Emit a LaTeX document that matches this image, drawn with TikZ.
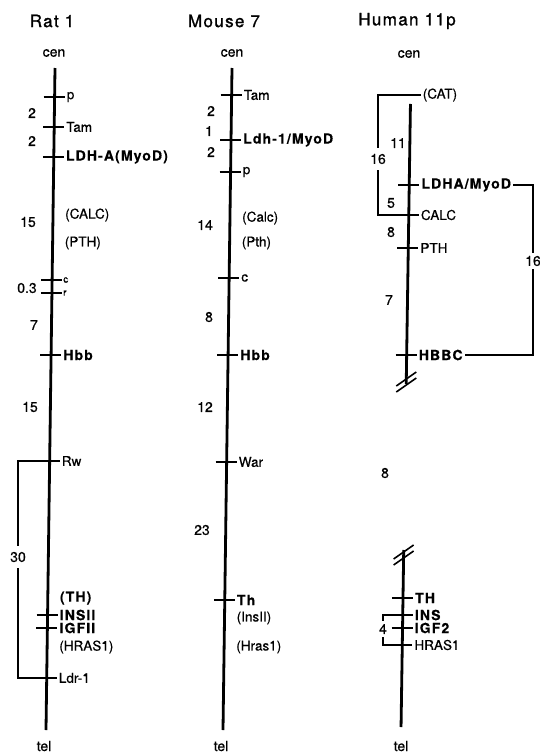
\documentclass[tikz,border=0pt]{standalone}
\usepackage{fontspec}
\setmainfont{TeX Gyre Heros}[FakeBold=0.6]
\newfontfamily\genebf{TeX Gyre Heros}[LetterSpace=8,FakeBold=0.4]
\newfontfamily\titlefont{TeX Gyre Heros}[LetterSpace=8,FakeBold=1.2]
\usetikzlibrary{calc}
\newcommand{\onchrom}[3]{\pgfmathsetmacro\locfrac{(#3-68)/662}\coordinate (#2) at ($(#1top)!\locfrac!(#1bot)$);}
\newcommand{\locus}[5][]{\onchrom{#2}{#3}{#4}
  \draw[tk] ([xshift=-11pt]#3) -- ([xshift=10pt]#3);
  \node[lbl,#1] (#3l) at ([xshift=10pt]#3) {#5};}
\newcommand{\unplaced}[5][]{\onchrom{#2}{#3}{#4}
  \node[lbl,#1] (#3l) at ([xshift=10pt]#3) {#5};}

\begin{document}
\begin{tikzpicture}[x=1pt,y=-1pt,
    chrom/.style={line width=2.8pt},
    tk/.style={line width=1.6pt},
    brk/.style={line width=1.4pt},
    lbl/.style={anchor=west,inner sep=2pt,font=\fontsize{13.5}{13.5}\selectfont},
    gb/.style={font=\genebf\bfseries\fontsize{14}{14}\selectfont},
    sm/.style={font=\fontsize{10}{10}\selectfont,inner sep=1pt},
    num/.style={inner sep=1pt,font=\fontsize{14}{14}\selectfont},
    gapnum/.style={num,inner ysep=6pt},
    ttl/.style={font=\titlefont\fontsize{17}{17}\selectfont}]
  \useasboundingbox (0,0) rectangle (540,755);
  \node[ttl] (rat) at (52,21) {Rat 1};
  \node[ttl] (mouse) at (224,21) {Mouse 7};
  \node[ttl] (human) at (407,21) {Human 11p};
  \node[num] (rcen) at (54,53) {cen}; \node[num,inner sep=0pt] (rtel) at (44,746) {tel};
  \node[num] (mcen) at (232,53) {cen}; \node[num,inner sep=0pt] (mtel) at (221,746) {tel};
  \node[num] (hcen) at (409,54) {cen}; \node[num,inner sep=0pt] (htel) at (401,746) {tel};
  \coordinate (rtop) at (55,68); \coordinate (rbot) at (46,730);
  \coordinate (mtop) at (232,68); \coordinate (mbot) at (223,730);
  \coordinate (htop) at (411,68); \coordinate (hbot) at (401,730);
  \draw[chrom] (rtop) -- (rbot);
  \draw[chrom] (mtop) -- (mbot);
  \onchrom{h}{hs1}{104} \onchrom{h}{he1}{384} \onchrom{h}{hs2}{550} \onchrom{h}{he2}{727}
  \draw[chrom] (hs1) -- (he1);
  \draw[chrom] (hs2) -- (he2);
  \onchrom{h}{hb1}{380} \onchrom{h}{hb2}{557}
  \draw[tk] ([shift={(-10,6)}]hb1) -- ([shift={(10,-8)}]hb1);
  \draw[tk] ([shift={(-10,12)}]hb1) -- ([shift={(10,-2)}]hb1);
  \draw[tk] ([shift={(-10,2)}]hb2) -- ([shift={(10,-12)}]hb2);
  \draw[tk] ([shift={(-10,8)}]hb2) -- ([shift={(10,-6)}]hb2);
  % rat
  \locus{r}{rP}{97}{p}
  \locus{r}{rTam}{127}{Tam}
  \locus[gb]{r}{rLdh}{157}{LDH-A(MyoD)}
  \unplaced{r}{rCalc}{215}{(CALC)}
  \unplaced{r}{rPth}{243}{(PTH)}
  \locus[sm]{r}{rC}{280}{c}
  \locus[sm]{r}{rR}{293}{r}
  \locus[gb]{r}{rHbb}{355}{Hbb}
  \locus{r}{rRw}{461}{Rw}
  \unplaced[gb]{r}{rTh}{598}{(TH)}
  \locus[gb]{r}{rIns}{615}{INSII}
  \locus[gb]{r}{rIgf}{628}{IGFII}
  \unplaced{r}{rHras}{647}{(HRAS1)}
  \locus{r}{rLdr}{678}{Ldr-1}
  \node[num] (rd1) at (32,113) {2};
  \node[num] (rd2) at (32,141) {2};
  \node[num] (rd3) at (28,222) {15};
  \node[num] (rd4) at (27,288) {0.3};
  \node[num] (rd5) at (34,325) {7};
  \node[num] (rd6) at (30,407) {15};
  \node[gapnum] (rd7) at (18,557) {30};
  \draw[brk] (rRw) -| (rd7.north);
  \draw[brk] (rd7.south) |- (rLdr);
  % mouse
  \locus{m}{mTam}{95}{Tam}
  \locus[gb]{m}{mLdh}{140}{Ldh-1/MyoD}
  \locus{m}{mP}{172}{p}
  \unplaced{m}{mCalc}{218}{(Calc)}
  \unplaced{m}{mPth}{243}{(Pth)}
  \locus{m}{mC}{278}{c}
  \locus[gb]{m}{mHbb}{355}{Hbb}
  \locus{m}{mWar}{462}{War}
  \locus[gb]{m}{mTh}{600}{Th}
  \unplaced{m}{mIns}{618}{(InsII)}
  \unplaced{m}{mHras}{647}{(Hras1)}
  \node[num] (md1) at (211,111) {2};
  \node[num] (md2) at (209,131) {1};
  \node[num] (md3) at (211,152) {2};
  \node[num] (md4) at (205,225) {14};
  \node[num] (md5) at (209,317) {8};
  \node[num] (md6) at (205,407) {12};
  \node[num] (md7) at (202,530) {23};
  % human
  \unplaced{h}{hCat}{95}{(CAT)}
  \locus[gb]{h}{hLdh}{185}{LDHA/MyoD}
  \locus{h}{hCalc}{215}{CALC}
  \locus{h}{hPth}{248}{PTH}
  \locus[gb]{h}{hHbbc}{355}{HBBC}
  \locus[gb]{h}{hTh}{598}{TH}
  \locus[gb]{h}{hIns}{615}{INS}
  \locus[gb]{h}{hIgf}{628}{IGF2}
  \locus{h}{hHras}{645}{HRAS1}
  \node[num] (hd1) at (398,143) {11};
  \node[gapnum] (hd2) at (378,159) {16};
  \node[num] (hd3) at (391,203) {5};
  \node[num] (hd4) at (391,232) {8};
  \node[num] (hd5) at (389,300) {7};
  \node[num,inner ysep=3pt] (hd6) at (533,261) {16};
  \node[num] (hd7) at (385,473) {8};
  \node[num,inner ysep=3pt] (hd8) at (383,629) {4};
  \draw[brk] (hCatl.west) -| (hd2.north);
  \draw[brk] (hd2.south) |- (hCalc);
  \draw[brk] (hLdhl.east) -| (hd6.north);
  \draw[brk] (hd6.south) |- (hHbbcl.east);
  \draw[brk] (hIns) -| (hd8.north);
  \draw[brk] (hd8.south) |- (hHras);
\end{tikzpicture}
\end{document}
